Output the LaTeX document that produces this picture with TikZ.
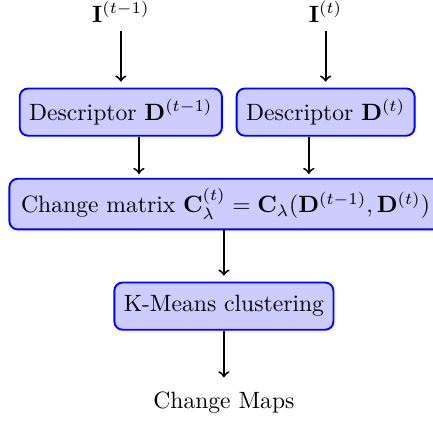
\documentclass[tikz,border=0pt]{standalone}
\usepackage{xcolor}
\usepackage{tikz}
\usepackage{amsmath}
\usepackage{amssymb}
\usepackage{bm}
\usetikzlibrary{calc}
\usetikzlibrary{positioning}

\begin{document}
\begin{tikzpicture}[-,auto,
                    thick,block node/.style={rectangle,rounded corners=3.5pt,draw=blue,fill=blue!20,inner sep=4pt,minimum height=20pt},
                    flow arrow/.style={->,thick,shorten >=2.5pt}]

\useasboundingbox (0,0) rectangle (6.45,-6.33);

%Inputs at the two time steps

  \node (Input1) at (1.80,-0.18) {$\mathbf{I}^{(t-1)}$};
  \node (Input2) at (4.85,-0.18) {$\mathbf{I}^{(t)}$};

%Descriptors

  \node[block node] (Desc1) at (1.80,-1.67) {Descriptor $\mathbf{D}^{(t-1)}$};
  \node[block node] (Desc2) at (4.85,-1.67) {Descriptor $\mathbf{D}^{(t)}$};

  \draw[flow arrow] (Input1) -- (Desc1);
  \draw[flow arrow] (Input2) -- (Desc2);

%Change matrix

  \node[block node,inner xsep=5pt] (ChangeMat) at (3.36,-3.04) {Change matrix $\mathbf{C}_\lambda^{(t)}=\mathbf{C}_\lambda(\mathbf{D}^{(t-1)},\mathbf{D}^{(t)})$};

  \coordinate (ChangeIn1) at (2.07,-2.68);
  \coordinate (ChangeIn2) at (4.60,-2.68);
  \draw[flow arrow] (Desc1.south -| ChangeIn1) -- (ChangeIn1);
  \draw[flow arrow] (Desc2.south -| ChangeIn2) -- (ChangeIn2);

%Clustering and output

  \node[block node] (KMeans) at (3.335,-4.56) {K-Means clustering};
  \node (ChangeMaps) at (3.335,-6.0) {Change Maps};

  \draw[flow arrow] (KMeans |- ChangeMat.south) -- (KMeans);
  \draw[flow arrow] (KMeans) -- (ChangeMaps);

\end{tikzpicture}
\end{document}
